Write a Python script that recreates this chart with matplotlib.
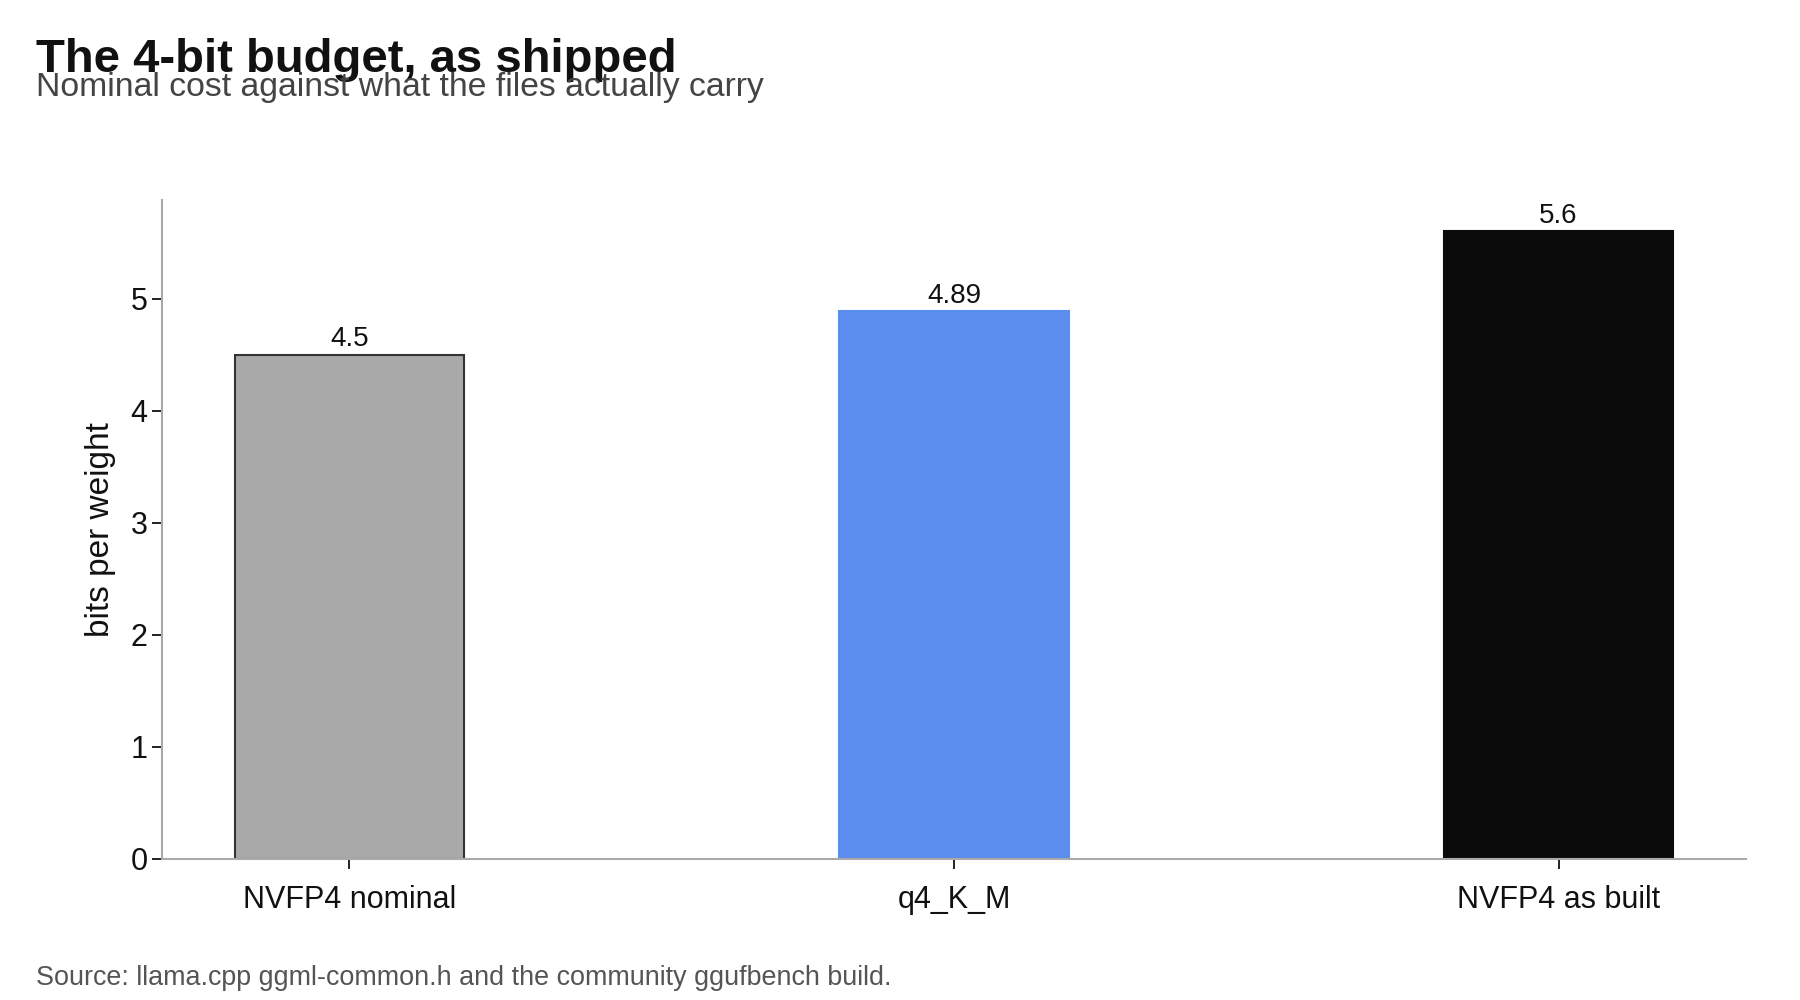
import matplotlib
matplotlib.use("Agg")
import matplotlib.pyplot as plt

plt.rcParams['font.family'] = ['Liberation Sans', 'DejaVu Sans']

# data
labels = ["NVFP4 nominal", "q4_K_M", "NVFP4 as built"]
bits = [4.5, 4.89, 5.6]
bar_labels = ["4.5", "4.89", "5.6"]
colors = ["#a9a9a9", "#5b8def", "#0b0b0b"]
edges = ["#333333", "#5b8def", "#0b0b0b"]

fig = plt.figure(figsize=(18, 10), dpi=100)
ax = fig.add_axes([0.09, 0.141, 0.88, 0.659])

x = range(len(labels))
bars = ax.bar(x, bits, width=0.38, color=colors, edgecolor=edges, linewidth=1.5, zorder=2)
for b, t in zip(bars, bar_labels):
    ax.text(b.get_x() + b.get_width() / 2, b.get_height() + 0.02, t,
            ha="center", va="bottom", fontsize=20, color="#111111")

ax.set_xlim(-0.31, 2.31)
ax.set_ylim(0, 5.88)
ax.set_xticks(list(x))
ax.set_xticklabels(labels)
ax.set_yticks([0, 1, 2, 3, 4, 5])
ax.tick_params(axis="both", labelsize=22, length=7, width=1.3, color="#111111", labelcolor="#111111")
ax.tick_params(axis="x", pad=12)
ax.set_ylabel("bits per weight", fontsize=24, color="#111111", labelpad=10)

for s in ["top", "right"]:
    ax.spines[s].set_visible(False)
for s in ["left", "bottom"]:
    ax.spines[s].set_color("#aaaaaa")
    ax.spines[s].set_linewidth(1.5)

fig.text(0.02, 0.928, "The 4-bit budget, as shipped", fontsize=34, fontweight="bold",
         color="#111111", ha="left", va="baseline")
fig.text(0.02, 0.904, "Nominal cost against what the files actually carry", fontsize=24.3,
         color="#444444", ha="left", va="baseline")
fig.text(0.02, 0.015, "Source: llama.cpp ggml-common.h and the community ggufbench build.",
         fontsize=19.4, color="#555555", ha="left", va="baseline")

fig.savefig("out.png", dpi=100)
